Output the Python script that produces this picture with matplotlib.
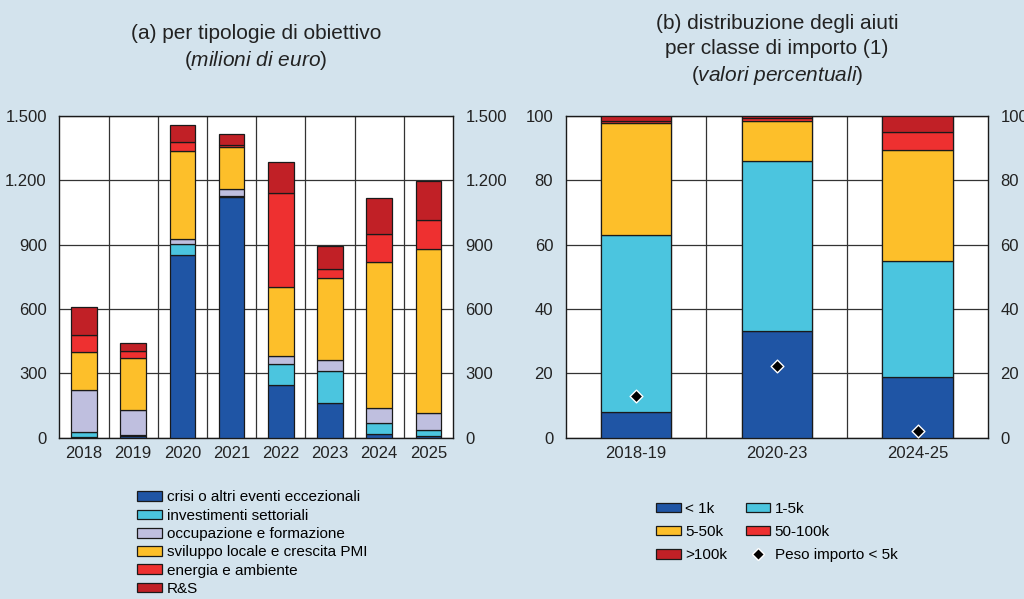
import numpy as np
import matplotlib
matplotlib.use('Agg')
import matplotlib.pyplot as plt
from matplotlib.ticker import FixedLocator
from matplotlib.lines import Line2D

plt.rcParams['font.family'] = ['Liberation Sans', 'DejaVu Sans']
plt.rcParams['mathtext.fontset'] = 'custom'
plt.rcParams['mathtext.rm'] = 'Liberation Sans'
plt.rcParams['mathtext.it'] = 'Liberation Sans:italic'

# panel (a): milioni di euro
years = ['2018', '2019', '2020', '2021', '2022', '2023', '2024', '2025']
crisi = [2, 8, 851, 1120, 246, 160, 16, 6]
investimenti = [26, 4, 53, 6, 99, 151, 51, 30]
occupazione = [192, 117, 21, 32, 36, 51, 70, 78]
sviluppo = [178, 242, 409, 196, 322, 380, 683, 765]
energia = [79, 33, 42, 8, 437, 46, 129, 133]
ricerca = [132, 39, 81, 54, 145, 103, 166, 186]
labels_a = ['crisi o altri eventi eccezionali', 'investimenti settoriali',
            'occupazione e formazione', 'sviluppo locale e crescita PMI',
            'energia e ambiente', 'R&S']
ticks_a = [0, 300, 600, 900, 1200, 1500]
ticklabels_a = ['0', '300', '600', '900', '1.200', '1.500']

# panel (b): valori percentuali
periods = ['2018-19', '2020-23', '2024-25']
lt1k = [8.1, 33.2, 18.8]
k1_5 = [55.0, 52.7, 36.1]
k5_50 = [34.5, 12.5, 34.4]
k50_100 = [0.7, 1.0, 5.7]
gt100k = [1.7, 0.6, 5.0]
peso_lt5k = [12.9, 22.4, 2.1]
labels_b = ['< 1k', '1-5k', '5-50k', '50-100k', '>100k']
ticks_b = [0, 20, 40, 60, 80, 100]

colors = ['#1f55a5', '#4bc5df', '#bfbfdf', '#fdbf2a', '#ee3030', '#c12026']
colors_b = ['#1f55a5', '#4bc5df', '#fdbf2a', '#ee3030', '#c12026']
bg = '#d3e3ed'

fig = plt.figure(figsize=(10.24, 5.99), dpi=100, facecolor=bg)
ax1 = fig.add_axes([0.0579, 0.2693, 0.3845, 0.5375])
ax2 = fig.add_axes([0.5524, 0.2693, 0.4124, 0.5375])

# --- panel (a)
x = np.arange(len(years))
bottom = np.zeros(len(years))
for vals, col, lab in zip([crisi, investimenti, occupazione, sviluppo, energia, ricerca],
                          colors, labels_a):
    ax1.bar(x, vals, 0.52, bottom=bottom, color=col, edgecolor='#1a1a1a',
            linewidth=0.9, label=lab, zorder=3)
    bottom += np.array(vals)
ax1.set_xlim(-0.5, len(years) - 0.5)
ax1.set_ylim(0, 1500)
ax1.set_xticks(x)
ax1.set_xticklabels(years)
ax1.xaxis.set_minor_locator(FixedLocator(np.arange(0.5, len(years) - 0.5, 1)))
ax1.set_yticks(ticks_a)
ax1.set_yticklabels(ticklabels_a)
ax1.grid(True, which='minor', axis='x', color='#333333', lw=0.9, zorder=0)
ax1.grid(True, which='major', axis='y', color='#333333', lw=0.9, zorder=0)
ax1.legend(loc='upper left', bbox_to_anchor=(0.182, -0.145), frameon=False,
           fontsize=11, handlelength=1.6, handleheight=0.6, handletextpad=0.35,
           labelspacing=0.28, borderaxespad=0)
ax1.set_title('(a) per tipologie di obiettivo\n' + r'($\it{milioni\ di\ euro}$)',
              fontsize=15, pad=36, color='#222222', linespacing=1.35)

# --- panel (b)
xb = np.array([2, 6, 10])
bottom = np.zeros(len(periods))
handles = []
for vals, col, lab in zip([lt1k, k1_5, k5_50, k50_100, gt100k], colors_b, labels_b):
    b = ax2.bar(xb, vals, 2, bottom=bottom, color=col, edgecolor='#1a1a1a',
                linewidth=0.9, label=lab, zorder=3)
    handles.append(b)
    bottom += np.array(vals)
ax2.scatter(xb, peso_lt5k, marker='D', s=42, color='black', edgecolor='white',
            linewidth=1.0, zorder=5)
ax2.set_xlim(0, 12)
ax2.set_ylim(0, 100)
ax2.set_xticks(xb)
ax2.set_xticklabels(periods)
ax2.xaxis.set_minor_locator(FixedLocator(np.arange(1, 12, 1)))
ax2.set_yticks(ticks_b)
ax2.grid(True, which='minor', axis='x', color='#333333', lw=0.9, zorder=0)
ax2.grid(True, which='major', axis='y', color='#333333', lw=0.9, zorder=0)
leg_h = [handles[0], handles[2], handles[4], handles[1], handles[3],
         Line2D([], [], marker='D', ls='', color='black', markeredgecolor='white',
                markersize=6)]
leg_l = [labels_b[0], labels_b[2], labels_b[4], labels_b[1], labels_b[3], 'Peso importo < 5k']
ax2.legend(leg_h, leg_l, ncol=2, loc='upper left', bbox_to_anchor=(0.2, -0.18),
           frameon=False, fontsize=11, handlelength=1.6, handleheight=0.6,
           handletextpad=0.3, labelspacing=0.6, columnspacing=1.2, borderaxespad=0)
ax2.set_title('(b) distribuzione degli aiuti\nper classe di importo (1)\n'
              + r'($\it{valori\ percentuali}$)',
              fontsize=15, pad=25, color='#222222', linespacing=1.38)

for ax in (ax1, ax2):
    ax.set_facecolor('white')
    for s in ax.spines.values():
        s.set_color('#1a1a1a')
        s.set_linewidth(1.0)
    ax.tick_params(which='both', length=0, left=False, right=False, bottom=False, top=False,
                   labelleft=True, labelright=True, labelsize=12, colors='#222222')
    ax.tick_params(axis='y', pad=9)
    ax.tick_params(axis='x', pad=6)

fig.savefig('out.png', dpi=100, facecolor=bg)
